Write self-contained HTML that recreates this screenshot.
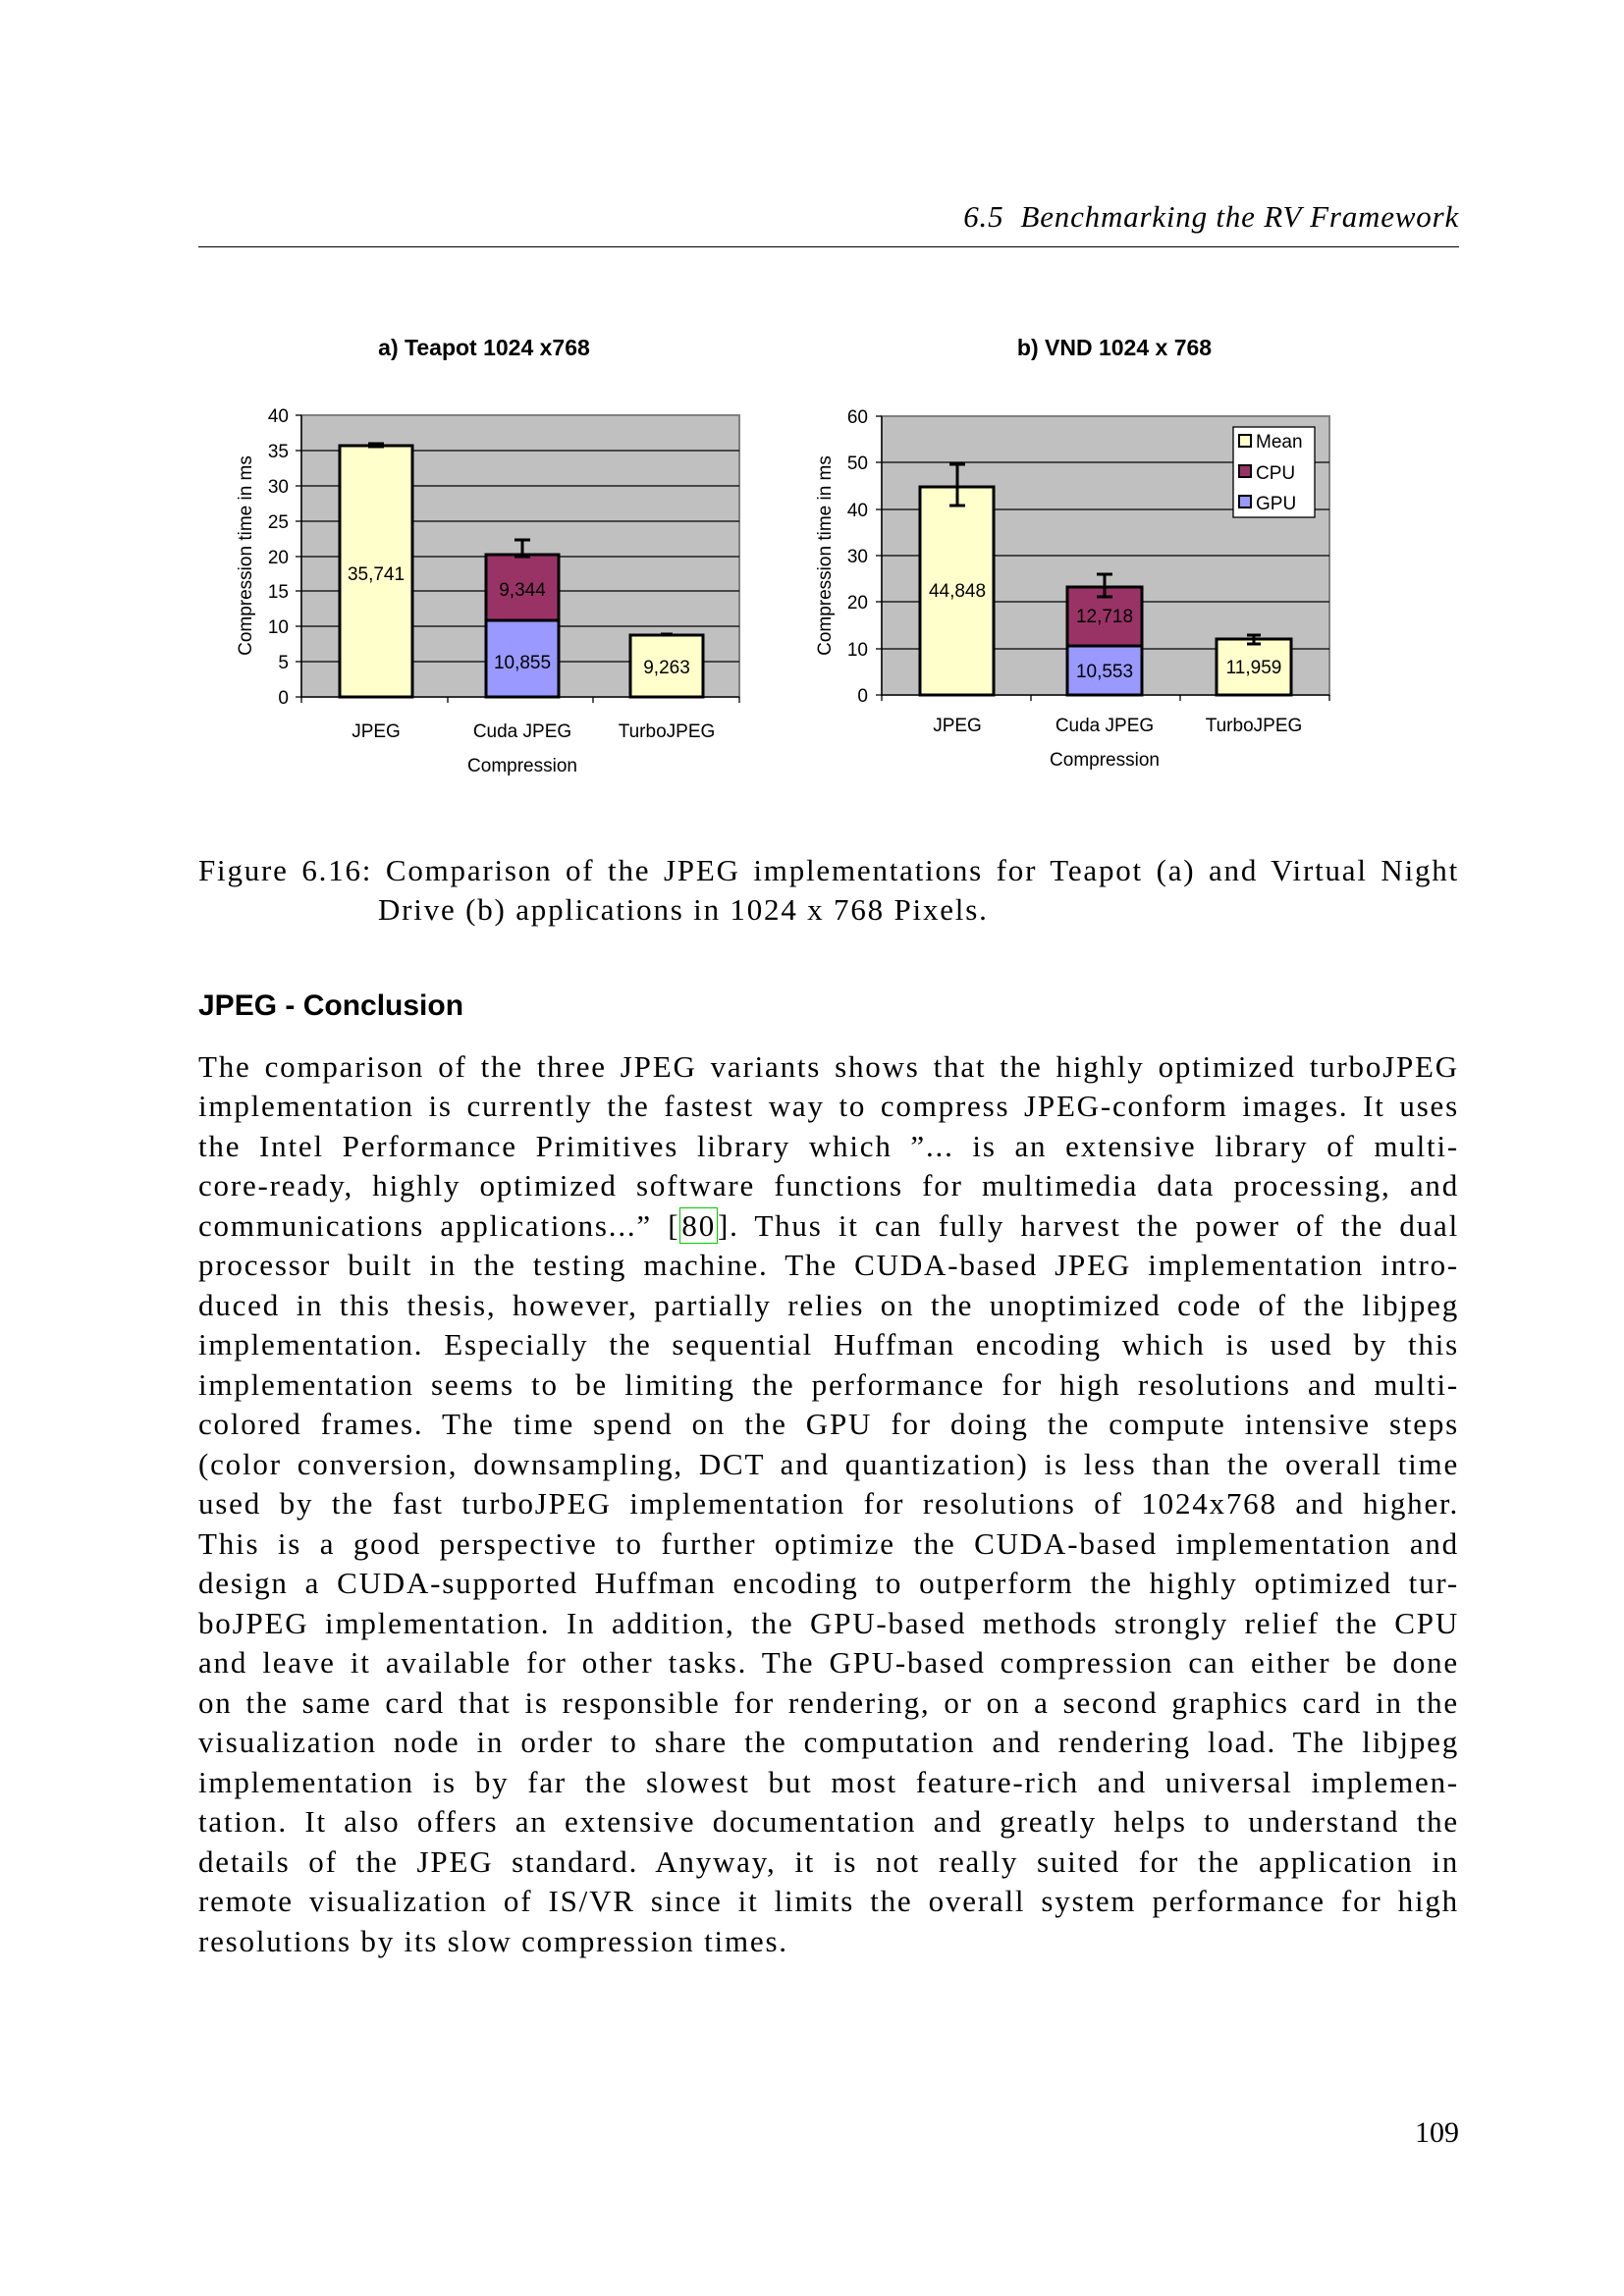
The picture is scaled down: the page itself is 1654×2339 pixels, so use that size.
<!DOCTYPE html>
<html><head><meta charset="utf-8"><style>
body{margin:0;background:#fff;}
.page{position:relative;width:1654px;height:2339px;background:#fff;overflow:hidden;font-family:"Liberation Serif",serif;color:#000;}
.hdr{position:absolute;right:168px;top:203px;font-style:italic;font-size:31px;letter-spacing:0.8px;}
.rule{position:absolute;left:202px;width:1284px;top:251px;height:1px;background:#000;}
.ln{position:absolute;left:202px;width:1284px;font-size:31px;letter-spacing:1.8px;line-height:40px;height:40px;text-align:justify;text-align-last:justify;white-space:nowrap;}
.last{text-align-last:left;}
.h{position:absolute;left:202px;top:1008px;font-family:"Liberation Sans",sans-serif;font-weight:bold;font-size:30px;}
svg text{font-family:"Liberation Sans",sans-serif;}
.cite{border:1.5px solid #0c0;padding:0 1px;}
</style></head><body><div class="page">
<div class="hdr">6.5&nbsp; Benchmarking the RV Framework</div>
<div class="rule"></div>

<svg width="1654" height="850" style="position:absolute;left:0;top:0" xmlns="http://www.w3.org/2000/svg">
<text x="493" y="362" font-size="23" font-weight="bold" text-anchor="middle">a) Teapot 1024 x768</text>
<rect x="307" y="423" width="446" height="287" fill="#c0c0c0" stroke="#808080" stroke-width="2"/>
<g stroke="#000" stroke-width="1.3">
<line x1="307" x2="753" y1="459" y2="459"/><line x1="307" x2="753" y1="495" y2="495"/>
<line x1="307" x2="753" y1="531" y2="531"/><line x1="307" x2="753" y1="567" y2="567"/>
<line x1="307" x2="753" y1="602" y2="602"/><line x1="307" x2="753" y1="638" y2="638"/>
<line x1="307" x2="753" y1="674" y2="674"/>
<line x1="307" x2="307" y1="423" y2="716"/><line x1="301" x2="753" y1="710" y2="710"/>
<line x1="301" x2="307" y1="423" y2="423"/><line x1="301" x2="307" y1="459" y2="459"/><line x1="301" x2="307" y1="495" y2="495"/><line x1="301" x2="307" y1="531" y2="531"/><line x1="301" x2="307" y1="567" y2="567"/><line x1="301" x2="307" y1="602" y2="602"/><line x1="301" x2="307" y1="638" y2="638"/><line x1="301" x2="307" y1="674" y2="674"/>
<line x1="456" x2="456" y1="710" y2="716"/><line x1="604" x2="604" y1="710" y2="716"/><line x1="753" x2="753" y1="710" y2="716"/>
</g>
<g font-size="19" text-anchor="end">
<text x="294" y="430">40</text><text x="294" y="466">35</text><text x="294" y="502">30</text><text x="294" y="538">25</text><text x="294" y="574">20</text><text x="294" y="609">15</text><text x="294" y="645">10</text><text x="294" y="681">5</text><text x="294" y="717">0</text>
</g>
<text transform="translate(256,566) rotate(-90)" font-size="19" text-anchor="middle">Compression time in ms</text>
<g stroke="#000" stroke-width="3">
<rect x="346" y="454" width="74" height="256" fill="#ffffcc"/>
<rect x="495" y="632" width="74" height="78" fill="#9999ff"/>
<rect x="495" y="565" width="74" height="67" fill="#993366"/>
<rect x="642" y="647" width="74" height="63" fill="#ffffcc"/>
<line x1="383" x2="383" y1="452" y2="455"/><line x1="375" x2="391" y1="452" y2="452"/><line x1="375" x2="391" y1="455" y2="455"/>
<line x1="532" x2="532" y1="550" y2="567"/><line x1="524" x2="540" y1="550" y2="550"/><line x1="524" x2="540" y1="567" y2="567"/>
<line x1="673" x2="685" y1="646" y2="646"/>
</g>
<g font-size="19" text-anchor="middle">
<text x="383" y="591">35,741</text><text x="532" y="607">9,344</text><text x="532" y="681">10,855</text><text x="679" y="686">9,263</text>
<text x="383" y="751">JPEG</text><text x="532" y="751">Cuda JPEG</text><text x="679" y="751">TurboJPEG</text>
<text x="532" y="786">Compression</text>
</g>

<text x="1135" y="362" font-size="23" font-weight="bold" text-anchor="middle">b) VND 1024 x 768</text>
<rect x="898" y="424" width="456" height="284" fill="#c0c0c0" stroke="#808080" stroke-width="2"/>
<g stroke="#000" stroke-width="1.3">
<line x1="898" x2="1354" y1="471" y2="471"/><line x1="898" x2="1354" y1="519" y2="519"/>
<line x1="898" x2="1354" y1="566" y2="566"/><line x1="898" x2="1354" y1="613" y2="613"/>
<line x1="898" x2="1354" y1="661" y2="661"/>
<line x1="898" x2="898" y1="424" y2="714"/><line x1="892" x2="1354" y1="708" y2="708"/>
<line x1="892" x2="898" y1="424" y2="424"/><line x1="892" x2="898" y1="471" y2="471"/><line x1="892" x2="898" y1="519" y2="519"/><line x1="892" x2="898" y1="566" y2="566"/><line x1="892" x2="898" y1="613" y2="613"/><line x1="892" x2="898" y1="661" y2="661"/>
<line x1="1050" x2="1050" y1="708" y2="714"/><line x1="1202" x2="1202" y1="708" y2="714"/><line x1="1354" x2="1354" y1="708" y2="714"/>
</g>
<g font-size="19" text-anchor="end">
<text x="884" y="431">60</text><text x="884" y="478">50</text><text x="884" y="526">40</text><text x="884" y="573">30</text><text x="884" y="620">20</text><text x="884" y="668">10</text><text x="884" y="715">0</text>
</g>
<text transform="translate(846,566) rotate(-90)" font-size="19" text-anchor="middle">Compression time in ms</text>
<g stroke="#000" stroke-width="3">
<rect x="937" y="496" width="75" height="212" fill="#ffffcc"/>
<rect x="1087" y="658" width="76" height="50" fill="#9999ff"/>
<rect x="1087" y="598" width="76" height="60" fill="#993366"/>
<rect x="1239" y="651" width="76" height="57" fill="#ffffcc"/>
<line x1="975" x2="975" y1="473" y2="515"/><line x1="967" x2="983" y1="473" y2="473"/><line x1="967" x2="983" y1="515" y2="515"/>
<line x1="1125" x2="1125" y1="585" y2="608"/><line x1="1117" x2="1133" y1="585" y2="585"/><line x1="1117" x2="1133" y1="608" y2="608"/>
<line x1="1277" x2="1277" y1="647" y2="656"/><line x1="1270" x2="1284" y1="647" y2="647"/><line x1="1270" x2="1284" y1="656" y2="656"/>
</g>
<rect x="1256" y="435" width="83" height="92" fill="#fff" stroke="#000" stroke-width="1.3"/>
<rect x="1262" y="443" width="12" height="12" fill="#ffffcc" stroke="#000" stroke-width="2"/>
<rect x="1262" y="474" width="12" height="12" fill="#993366" stroke="#000" stroke-width="2"/>
<rect x="1262" y="505" width="12" height="12" fill="#9999ff" stroke="#000" stroke-width="2"/>
<g font-size="19">
<text x="1279" y="456">Mean</text><text x="1279" y="488">CPU</text><text x="1279" y="519">GPU</text>
</g>
<g font-size="19" text-anchor="middle">
<text x="975" y="608">44,848</text><text x="1125" y="634">12,718</text><text x="1125" y="690">10,553</text><text x="1277" y="686">11,959</text>
<text x="975" y="745">JPEG</text><text x="1125" y="745">Cuda JPEG</text><text x="1277" y="745">TurboJPEG</text>
<text x="1125" y="780">Compression</text>
</g>
</svg>

<div class="ln" style="top:867px">Figure 6.16: Comparison of the JPEG implementations for Teapot (a) and Virtual Night</div>
<div class="ln last" style="top:907px;left:385px;width:1100px">Drive (b) applications in 1024 x 768 Pixels.</div>

<div class="h">JPEG - Conclusion</div>

<div class="ln" style="top:1067px">The comparison of the three JPEG variants shows that the highly optimized turboJPEG</div>
<div class="ln" style="top:1107px">implementation is currently the fastest way to compress JPEG-conform images. It uses</div>
<div class="ln" style="top:1148px">the Intel Performance Primitives library which ”... is an extensive library of multi-</div>
<div class="ln" style="top:1188px">core-ready, highly optimized software functions for multimedia data processing, and</div>
<div class="ln" style="top:1229px">communications applications...” [<span class="cite">80</span>]. Thus it can fully harvest the power of the dual</div>
<div class="ln" style="top:1269px">processor built in the testing machine. The CUDA-based JPEG implementation intro-</div>
<div class="ln" style="top:1310px">duced in this thesis, however, partially relies on the unoptimized code of the libjpeg</div>
<div class="ln" style="top:1350px">implementation. Especially the sequential Huffman encoding which is used by this</div>
<div class="ln" style="top:1391px">implementation seems to be limiting the performance for high resolutions and multi-</div>
<div class="ln" style="top:1431px">colored frames. The time spend on the GPU for doing the compute intensive steps</div>
<div class="ln" style="top:1472px">(color conversion, downsampling, DCT and quantization) is less than the overall time</div>
<div class="ln" style="top:1512px">used by the fast turboJPEG implementation for resolutions of 1024x768 and higher.</div>
<div class="ln" style="top:1553px">This is a good perspective to further optimize the CUDA-based implementation and</div>
<div class="ln" style="top:1593px">design a CUDA-supported Huffman encoding to outperform the highly optimized tur-</div>
<div class="ln" style="top:1634px">boJPEG implementation. In addition, the GPU-based methods strongly relief the CPU</div>
<div class="ln" style="top:1674px">and leave it available for other tasks. The GPU-based compression can either be done</div>
<div class="ln" style="top:1715px">on the same card that is responsible for rendering, or on a second graphics card in the</div>
<div class="ln" style="top:1755px">visualization node in order to share the computation and rendering load. The libjpeg</div>
<div class="ln" style="top:1796px">implementation is by far the slowest but most feature-rich and universal implemen-</div>
<div class="ln" style="top:1836px">tation. It also offers an extensive documentation and greatly helps to understand the</div>
<div class="ln" style="top:1877px">details of the JPEG standard. Anyway, it is not really suited for the application in</div>
<div class="ln" style="top:1917px">remote visualization of IS/VR since it limits the overall system performance for high</div>
<div class="ln last" style="top:1958px">resolutions by its slow compression times.</div>

<div style="position:absolute;right:168px;top:2156px;font-size:30px;">109</div>
</div></body></html>
